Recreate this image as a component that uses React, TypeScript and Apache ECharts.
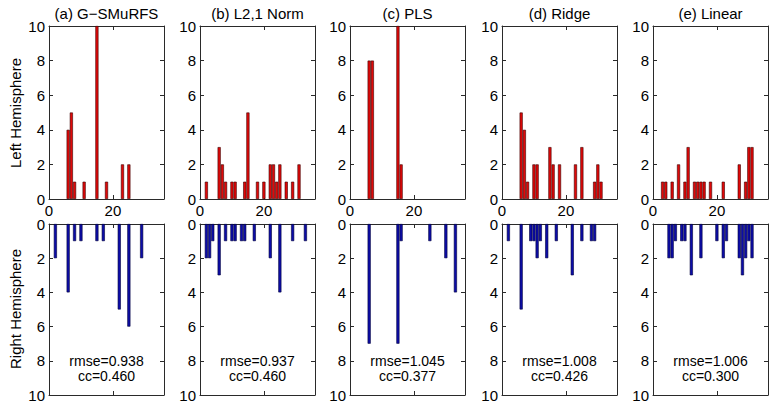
import React, { useEffect, useRef } from "react";
import * as echarts from "echarts";

const titles = ["(a) G\u2212SMuRFS", "(b) L2,1 Norm", "(c) PLS", "(d) Ridge", "(e) Linear"];
const rmseValues = ["0.938", "0.937", "1.045", "1.008", "1.006"];
const ccValues = ["0.460", "0.460", "0.377", "0.426", "0.300"];
const yTicks = [0, 2, 4, 6, 8, 10];
const xTicks = [0, 20];

// Left hemisphere: bin positions and counts
const leftA_bins = [6, 7, 8, 11, 15, 18, 23, 25];
const leftA_counts = [4, 5, 1, 1, 10, 1, 2, 2];
const leftB_bins = [2, 6, 7, 8, 10, 11, 14, 15, 18, 20, 22, 23, 24, 25, 27, 29, 31];
const leftB_counts = [1, 3, 2, 1, 1, 1, 1, 5, 1, 1, 2, 2, 1, 2, 1, 1, 2];
const leftC_bins = [6, 7, 15, 16];
const leftC_counts = [8, 8, 10, 2];
const leftD_bins = [6, 7, 8, 10, 11, 15, 16, 18, 23, 25, 29, 30, 31];
const leftD_counts = [5, 4, 1, 2, 2, 3, 2, 2, 2, 3, 1, 2, 1];
const leftE_bins = [3, 4, 6, 8, 10, 11, 13, 14, 15, 16, 18, 22, 27, 29, 30, 31];
const leftE_counts = [1, 1, 1, 2, 1, 3, 1, 1, 1, 1, 1, 1, 2, 1, 3, 3];

// Right hemisphere: bin positions and counts
const rightA_bins = [2, 6, 8, 10, 15, 17, 22, 25, 29];
const rightA_counts = [2, 4, 1, 1, 1, 1, 5, 6, 2];
const rightB_bins = [2, 3, 4, 6, 8, 10, 11, 13, 14, 17, 22, 25, 29, 33];
const rightB_counts = [2, 2, 1, 3, 1, 1, 1, 1, 1, 1, 2, 4, 1, 1];
const rightC_bins = [6, 15, 16, 25, 30, 33];
const rightC_counts = [7, 7, 1, 1, 2, 4];
const rightD_bins = [2, 6, 9, 10, 11, 12, 14, 17, 22, 25, 28, 29];
const rightD_counts = [1, 5, 1, 1, 2, 1, 2, 1, 3, 1, 1, 1];
const rightE_bins = [5, 6, 7, 9, 10, 12, 15, 20, 22, 23, 27, 28, 29, 30, 31];
const rightE_counts = [2, 2, 1, 1, 1, 3, 2, 1, 2, 1, 2, 3, 2, 1, 2];

const leftBins = [leftA_bins, leftB_bins, leftC_bins, leftD_bins, leftE_bins];
const leftCounts = [leftA_counts, leftB_counts, leftC_counts, leftD_counts, leftE_counts];
const rightBins = [rightA_bins, rightB_bins, rightC_bins, rightD_bins, rightE_bins];
const rightCounts = [rightA_counts, rightB_counts, rightC_counts, rightD_counts, rightE_counts];

const X_MAX = 36;
const Y_MAX = 10;

const FONT = "'Liberation Sans', Arial, Helvetica, sans-serif";
const AXIS_COLOR = "#2a2a2a";

export default function App() {
  const ref = useRef<HTMLDivElement>(null);

  useEffect(() => {
    if (!ref.current) return;
    const chart = echarts.init(ref.current, undefined, { renderer: "svg" });

    const lefts = [49, 200, 350, 502, 653];
    const gw = 115;
    const rows = [
      { top: 26, height: 173 },
      { top: 224, height: 171 },
    ];

    const grids: any[] = [];
    const xAxes: any[] = [];
    const yAxes: any[] = [];
    const series: any[] = [];
    const graphics: any[] = [];

    const tickStyle = { show: true, inside: true, length: 4, lineStyle: { color: AXIS_COLOR, width: 1 } };
    const lineStyle = { show: true, onZero: false, lineStyle: { color: AXIS_COLOR, width: 1 } };

    rows.forEach((row, r) => {
      lefts.forEach((left, c) => {
        const gi = grids.length;
        grids.push({
          left,
          top: row.top,
          width: gw,
          height: row.height,
          show: false,
          containLabel: false,
        });
        const xBase = {
          type: "value",
          gridIndex: gi,
          min: 0,
          max: X_MAX,
          interval: 20,
          splitLine: { show: false },
          axisLine: lineStyle,
          axisTick: tickStyle,
        };
        xAxes.push({
          ...xBase,
          position: r === 0 ? "bottom" : "top",
          axisLabel: {
            show: r === 0,
            color: "#000",
            fontSize: 15,
            fontFamily: FONT,
            margin: 4,
            showMaxLabel: false,
            formatter: (v: number) => (xTicks.includes(v) ? String(v) : ""),
          },
        });
        const xPrimary = xAxes.length - 1;
        xAxes.push({
          ...xBase,
          position: r === 0 ? "top" : "bottom",
          axisLabel: { show: false },
        });
        const yBase = {
          type: "value",
          gridIndex: gi,
          min: 0,
          max: Y_MAX,
          interval: 2,
          inverse: r === 1,
          splitLine: { show: false },
          axisLine: lineStyle,
          axisTick: tickStyle,
        };
        yAxes.push({
          ...yBase,
          position: "left",
          axisLabel: {
            show: true,
            color: "#000",
            fontSize: 15,
            fontFamily: FONT,
            margin: 4,
            formatter: (v: number) => (yTicks.includes(v) ? String(v) : ""),
          },
        });
        const yPrimary = yAxes.length - 1;
        yAxes.push({
          ...yBase,
          position: "right",
          axisLabel: { show: false },
        });

        const bins = r === 0 ? leftBins[c] : rightBins[c];
        const counts = r === 0 ? leftCounts[c] : rightCounts[c];
        series.push({
          type: "bar",
          xAxisIndex: xPrimary,
          yAxisIndex: yPrimary,
          data: bins.map((b, i) => [b, counts[i]]),
          barWidth: 3.1,
          silent: true,
          itemStyle: r === 0
            ? { color: "#e00808", borderColor: "#3a0000", borderWidth: 0.6 }
            : { color: "#0c0ca8", borderColor: "#00003a", borderWidth: 0.6 },
        });

        if (r === 0) {
          graphics.push({
            type: "text",
            x: left + gw / 2,
            y: 13,
            style: {
              text: titles[c],
              fill: "#000",
              font: `15px ${FONT}`,
              textAlign: "center",
              textVerticalAlign: "middle",
            },
          });
        } else {
          graphics.push({
            type: "text",
            x: left + gw / 2,
            y: 361,
            style: {
              text: `rmse=${rmseValues[c]}`,
              fill: "#000",
              font: `14px ${FONT}`,
              textAlign: "center",
              textVerticalAlign: "middle",
            },
          });
          graphics.push({
            type: "text",
            x: left + gw / 2,
            y: 376,
            style: {
              text: `cc=${ccValues[c]}`,
              fill: "#000",
              font: `14px ${FONT}`,
              textAlign: "center",
              textVerticalAlign: "middle",
            },
          });
        }
      });
    });

    graphics.push({
      type: "text",
      x: 15,
      y: 113,
      rotation: Math.PI / 2,
      style: {
        text: "Left Hemisphere",
        fill: "#000",
        font: `15px ${FONT}`,
        textAlign: "center",
        textVerticalAlign: "middle",
      },
    });
    graphics.push({
      type: "text",
      x: 15,
      y: 309,
      rotation: Math.PI / 2,
      style: {
        text: "Right Hemisphere",
        fill: "#000",
        font: `15px ${FONT}`,
        textAlign: "center",
        textVerticalAlign: "middle",
      },
    });

    chart.setOption({
      animation: false,
      backgroundColor: "#ffffff",
      grid: grids,
      xAxis: xAxes,
      yAxis: yAxes,
      series,
      graphic: graphics,
    });

    return () => {
      chart.dispose();
    };
  }, []);

  return (
    <div
      ref={ref}
      style={{ position: "absolute", left: 0, top: 0, width: 776, height: 408 }}
    />
  );
}
